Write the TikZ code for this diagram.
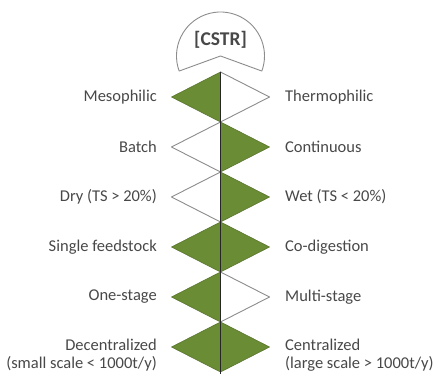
\documentclass[tikz,border=0pt]{standalone}
\usepackage{fontspec}
\setmainfont{Carlito}
\usepackage{tikz}

\definecolor{leafgreen}{RGB}{106,140,52}
\definecolor{rimgray}{RGB}{140,140,140}
\definecolor{labelgray}{RGB}{72,72,72}

\begin{document}
\begin{tikzpicture}[x=1pt,y=1pt,
  greenhalf/.style={fill=leafgreen,draw=leafgreen!85!black,line width=0.6pt,line join=round},
  whitehalf/.style={fill=white,draw=rimgray,line width=0.9pt,line join=round},
  lefttext/.style={anchor=east,align=right,inner sep=0pt,text=labelgray,font=\fontsize{16.5}{17.5}\selectfont},
  righttext/.style={anchor=west,align=left,inner sep=0pt,text=labelgray,font=\fontsize{16.5}{17.5}\selectfont}]

\useasboundingbox (0,0) rectangle (433,374);

% reactor cap
\coordinate (cap) at (220.5,318);
\draw[whitehalf] (cap) ++(200:44) arc[start angle=200,end angle=-20,radius=44] -- (cap) -- cycle;
\node (cstr) at (220.5,334) [text=labelgray,font=\fontsize{19.5}{22}\selectfont\bfseries] {[CSTR]};

% diamond centres
\coordinate (1) at (220.5,277);
\coordinate (2) at (220.5,227);
\coordinate (3) at (220.5,177);
\coordinate (4) at (220.5,127);
\coordinate (5) at (220.5,77);
\coordinate (6) at (220.5,27);

\draw[greenhalf] (1) ++(0,25) -- ++(-49,-25) -- ++(49,-25) -- cycle;
\draw[whitehalf] (1) ++(0,25) -- ++(49,-25) -- ++(-49,-25) -- cycle;

\draw[whitehalf] (2) ++(0,25) -- ++(-49,-25) -- ++(49,-25) -- cycle;
\draw[greenhalf] (2) ++(0,25) -- ++(49,-25) -- ++(-49,-25) -- cycle;

\draw[whitehalf] (3) ++(0,25) -- ++(-49,-25) -- ++(49,-25) -- cycle;
\draw[greenhalf] (3) ++(0,25) -- ++(49,-25) -- ++(-49,-25) -- cycle;

\draw[greenhalf] (4) ++(0,25) -- ++(-49,-25) -- ++(49,-25) -- cycle;
\draw[greenhalf] (4) ++(0,25) -- ++(49,-25) -- ++(-49,-25) -- cycle;

\draw[greenhalf] (5) ++(0,25) -- ++(-49,-25) -- ++(49,-25) -- cycle;
\draw[whitehalf] (5) ++(0,25) -- ++(49,-25) -- ++(-49,-25) -- cycle;

\draw[greenhalf] (6) ++(0,25) -- ++(-49,-25) -- ++(49,-25) -- cycle;
\draw[greenhalf] (6) ++(0,25) -- ++(49,-25) -- ++(-49,-25) -- cycle;

% spine
\coordinate (top) at (220.5,302);
\coordinate (bot) at (220.5,0);
\draw[line width=1.6pt,black!85] (top) -- (bot);

% options
\node (1l) at (157,277) [lefttext] {Mesophilic};
\node (1r) at (285,277) [righttext] {Thermophilic};
\node (2l) at (157,227) [lefttext] {Batch};
\node (2r) at (285,227) [righttext] {Continuous};
\node (3l) at (157,177) [lefttext] {Dry (TS > 20\%)};
\node (3r) at (285,177) [righttext] {Wet (TS < 20\%)};
\node (4l) at (157,127) [lefttext] {Single feedstock};
\node (4r) at (285,127) [righttext] {Co-digestion};
\node (5l) at (157,77) [lefttext] {One-stage};
\node (5r) at (285,77) [righttext] {Multi-stage};
\node (6l) at (157,19) [lefttext] {Decentralized\\(small scale < 1000t/y)};
\node (6r) at (285,19) [righttext] {Centralized\\(large scale > 1000t/y)};

\end{tikzpicture}
\end{document}
